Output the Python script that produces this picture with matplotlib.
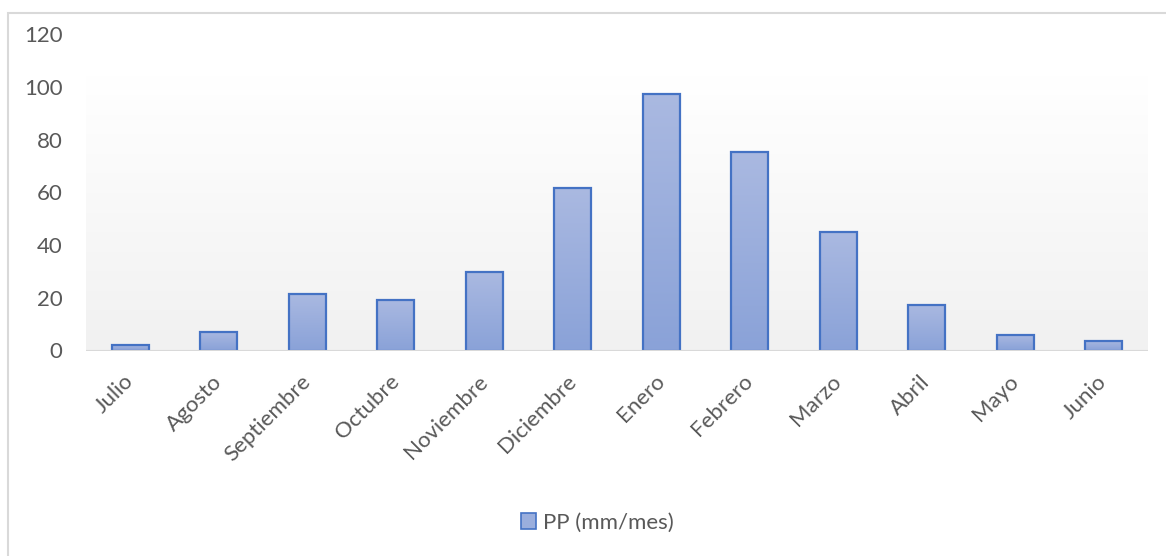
import numpy as np
import matplotlib.pyplot as plt
from matplotlib.colors import LinearSegmentedColormap
from matplotlib.patches import Patch, Rectangle
from matplotlib.transforms import ScaledTranslation

# precipitacion mensual (mm/mes), ano hidrologico julio - junio
meses = ['Julio', 'Agosto', 'Septiembre', 'Octubre', 'Noviembre', 'Diciembre',
         'Enero', 'Febrero', 'Marzo', 'Abril', 'Mayo', 'Junio']
pp = [2.1, 7.1, 21.4, 19.2, 29.8, 61.6, 97.2, 75.2, 44.9, 17.2, 6.0, 3.6]
yticks = [0, 20, 40, 60, 80, 100, 120]

plt.rcParams['font.family'] = ['Lato', 'DejaVu Sans']
gris = '#595959'
azul = '#4472c4'

fig = plt.figure(figsize=(11.66, 5.56), dpi=100)
# marco del grafico (solo se ven los bordes superior e izquierdo)
fig.patches.append(Rectangle((8 / 1166, -0.1), 1.2, 1 - 13 / 556 + 0.1,
                             transform=fig.transFigure, fill=False,
                             edgecolor='#d9d9d9', linewidth=1.5))

ax = fig.add_axes([86 / 1166, 1 - 350.5 / 556, (1148 - 86) / 1166, (350.5 - 34) / 556])
ax.set_xlim(-0.5, len(meses) - 0.5)
ax.set_ylim(0, 120)

# fondo degradado del area de trazado
fondo = LinearSegmentedColormap.from_list('fondo', ['#f1f1f1', '#ffffff'])
ax.imshow(np.linspace(0, 1, 256).reshape(-1, 1), cmap=fondo, aspect='auto',
          origin='lower', extent=[0, 1, 0, 0.867], transform=ax.transAxes, zorder=0)

x = np.arange(len(meses))
barras = ax.bar(x, pp, width=0.42, facecolor='none', edgecolor=azul,
                linewidth=1.6, zorder=3)

# relleno degradado de cada barra (claro arriba, oscuro abajo)
cmap_barra = LinearSegmentedColormap.from_list('barra', ['#8aa2d8', '#aab9e1'])
grad = np.linspace(0, 1, 128).reshape(-1, 1)
for b in barras:
    ax.imshow(grad, cmap=cmap_barra, aspect='auto', origin='lower',
              extent=[b.get_x(), b.get_x() + b.get_width(), 0, b.get_height()],
              zorder=2)

ax.axhline(0, color='#d9d9d9', linewidth=1.5, zorder=4)

ax.set_yticks(yticks)
ax.set_xticks(x)
ax.set_xticklabels(meses, rotation=45, ha='right', rotation_mode='anchor')
ax.tick_params(axis='both', length=0, labelsize=16, labelcolor=gris)
ax.tick_params(axis='y', pad=17)
ax.tick_params(axis='x', pad=15)
# desplazar un poco las etiquetas giradas para que terminen bajo cada barra
corr = ScaledTranslation(-0.07, 0, fig.dpi_scale_trans)
for lab in ax.get_xticklabels():
    lab.set_transform(lab.get_transform() + corr)
for s in ax.spines.values():
    s.set_visible(False)

fig.legend(handles=[Patch(facecolor='#9aaedd', edgecolor=azul, linewidth=1.2,
                          label='PP (mm/mes)')],
           loc='center', bbox_to_anchor=(597 / 1166, 1 - 523 / 556),
           frameon=False, fontsize=16, labelcolor=gris,
           handlelength=0.7, handleheight=0.7, handletextpad=0.3)

fig.savefig('out.png', dpi=100)
